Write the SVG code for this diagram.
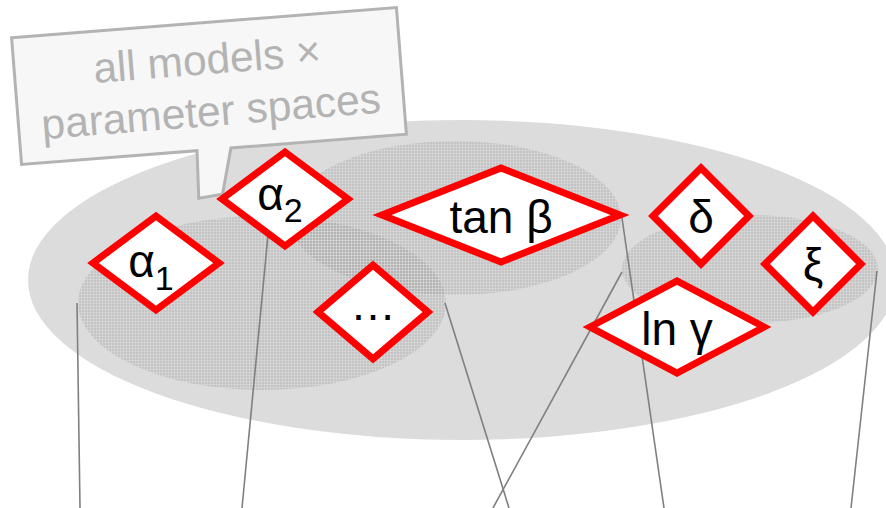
<svg xmlns="http://www.w3.org/2000/svg" width="886" height="508" viewBox="0 0 886 508">
<defs>
<pattern id="mesh" width="3" height="3" patternUnits="userSpaceOnUse">
<rect width="3" height="3" fill="#8c8c8c" fill-opacity="0.3"/>
<path d="M0,0.5H3M0.5,0V3" stroke="#ffffff" stroke-opacity="0.22" stroke-width="1"/>
</pattern>
<style>
.inner{fill:url(#mesh)}
.dia{fill:#ffffff;stroke:#ff0000;stroke-width:7;stroke-linejoin:miter;stroke-miterlimit:10}
.lbl{font-family:"Liberation Sans",Arial,sans-serif;font-size:46px;fill:#000000;text-anchor:middle}
.sub{font-size:34px}
.con{stroke:#808080;stroke-width:1.6;fill:none}
.call{fill:#f7f7f7;stroke:#b3b3b3;stroke-width:3}
.callt{font-family:"Liberation Sans",Arial,sans-serif;font-size:42.5px;fill:#b3b3b3;text-anchor:middle}
</style>
</defs>
<g id="space">
<ellipse cx="462" cy="280" rx="434" ry="160" fill="#dcdcdc"/>
<ellipse class="inner" cx="262" cy="303" rx="184" ry="87"/>
<ellipse class="inner" cx="455" cy="218" rx="166" ry="77"/>
<ellipse class="inner" cx="750" cy="269" rx="128" ry="54"/>
</g>
<g id="callout" transform="rotate(-4.5 209 86)">
<path class="call" d="M16,22.5 H402 V149.5 H226 L214,195 L190,197 L192,149.5 H16 Z"/>
<text class="callt" x="209" y="74">all models ×</text>
<text class="callt" x="209" y="126">parameter spaces</text>
</g>
<g id="connectors">
<line class="con" x1="77" y1="303" x2="80" y2="508"/>
<line class="con" x1="268" y1="235" x2="242" y2="508"/>
<line class="con" x1="445" y1="303" x2="509" y2="508"/>
<line class="con" x1="622" y1="272" x2="493" y2="508"/>
<line class="con" x1="622" y1="218" x2="664" y2="508"/>
<line class="con" x1="877" y1="271" x2="851" y2="508"/>
</g>
<g id="alpha1">
<path class="dia" d="M93,263 L156,216 L219,263 L156,310 Z"/>
<text class="lbl" x="151" y="277">α<tspan class="sub" dy="13">1</tspan></text>
</g>
<g id="alpha2">
<path class="dia" d="M222,199 L285,152 L348,199 L285,246 Z"/>
<text class="lbl" x="280" y="210">α<tspan class="sub" dy="12">2</tspan></text>
</g>
<g id="tanbeta">
<path class="dia" d="M382,215 L501,168 L620,215 L501,262 Z"/>
<text class="lbl" x="501" y="233">tan β</text>
</g>
<g id="ellipsis">
<path class="dia" d="M318,312 L373,265 L428,312 L373,359 Z"/>
<text class="lbl" x="373" y="320" letter-spacing="0">…</text>
</g>
<g id="delta">
<path class="dia" d="M653,216 L701,168 L749,216 L701,264 Z"/>
<text class="lbl" x="701" y="233">δ</text>
</g>
<g id="xi">
<path class="dia" d="M765,264 L813,216 L861,264 L813,312 Z"/>
<text class="lbl" x="813" y="281">ξ</text>
</g>
<g id="lngamma">
<path class="dia" d="M590,327 L677,281 L764,327 L677,373 Z"/>
<text class="lbl" x="677" y="345">ln γ</text>
</g>
</svg>
